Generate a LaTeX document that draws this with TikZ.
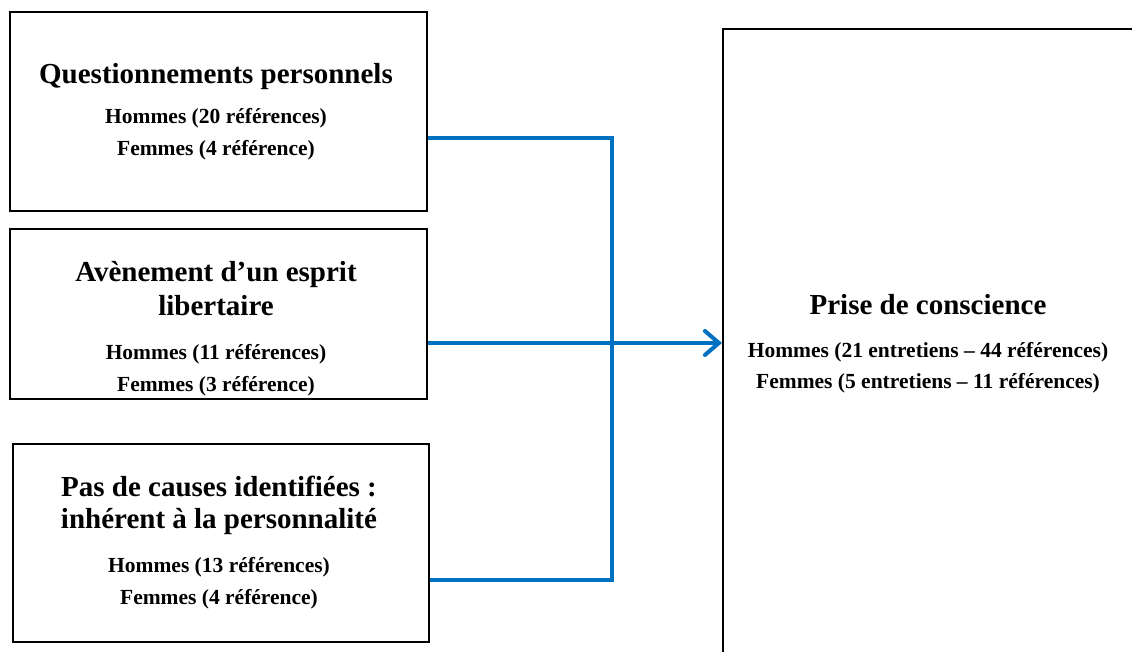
\documentclass[tikz,border=0pt]{standalone}
\usepackage{fontspec}
\setmainfont{Liberation Serif}
\usetikzlibrary{arrows.meta}
\definecolor{conblue}{HTML}{0070C0}
\tikzset{
  box/.style={draw=black, line width=1.6pt, anchor=north west, inner sep=0pt},
  ttl/.style={font=\bfseries\fontsize{29}{33}\selectfont, anchor=base, inner sep=0pt},
  sub/.style={font=\bfseries\fontsize{21.5}{32}\selectfont, anchor=base, inner sep=0pt},
  con/.style={draw=conblue, line width=4pt},
}
\begin{document}
\begin{tikzpicture}[x=1pt,y=-1pt]
\useasboundingbox (0,0) rectangle (1132,652);
\begin{scope}
\clip (0,0) rectangle (1132,652);
\node[box, minimum width=440pt, minimum height=660pt] (pc) at (722,28) {};
\end{scope}
\node[box, minimum width=417pt, minimum height=199pt] (q) at (9,11) {};
\node[box, minimum width=417pt, minimum height=170pt] (a) at (9,228) {};
\node[box, minimum width=416pt, minimum height=198pt] (p) at (12,443) {};
% texts
\node[ttl] (qt) at (216,84) {Questionnements personnels};
\node[sub] (qh) at (216,124) {Hommes (20 références)};
\node[sub] (qf) at (216,156) {Femmes (4 référence)};
\node[ttl] (at1) at (216,281) {Avènement d’un esprit};
\node[ttl] (at2) at (216,315) {libertaire};
\node[sub] (ah) at (216,359) {Hommes (11 références)};
\node[sub] (af) at (216,391) {Femmes (3 référence)};
\node[ttl] (pt1) at (219,496) {Pas de causes identifiées :};
\node[ttl] (pt2) at (219,528) {inhérent à la personnalité};
\node[sub] (ph) at (219,572) {Hommes (13 références)};
\node[sub] (pf) at (219,604) {Femmes (4 référence)};
\node[ttl] (pct) at (928,314) {Prise de conscience};
\node[sub] (pch) at (928,357) {Hommes (21 entretiens – 44 références)};
\node[sub] (pcf) at (928,388) {Femmes (5 entretiens – 11 références)};
% connectors
\coordinate (j1) at (612,138);
\coordinate (j3) at (612,580);
\draw[con] (q.east |- j1) -- (j1) -- (j3) -- (p.east |- j3);
\draw[con, -{Straight Barb[length=14pt,width=24pt,line cap=round]}] (a.east |- 0,343) -- (pc.west |- 0,343);
\end{tikzpicture}
\end{document}
